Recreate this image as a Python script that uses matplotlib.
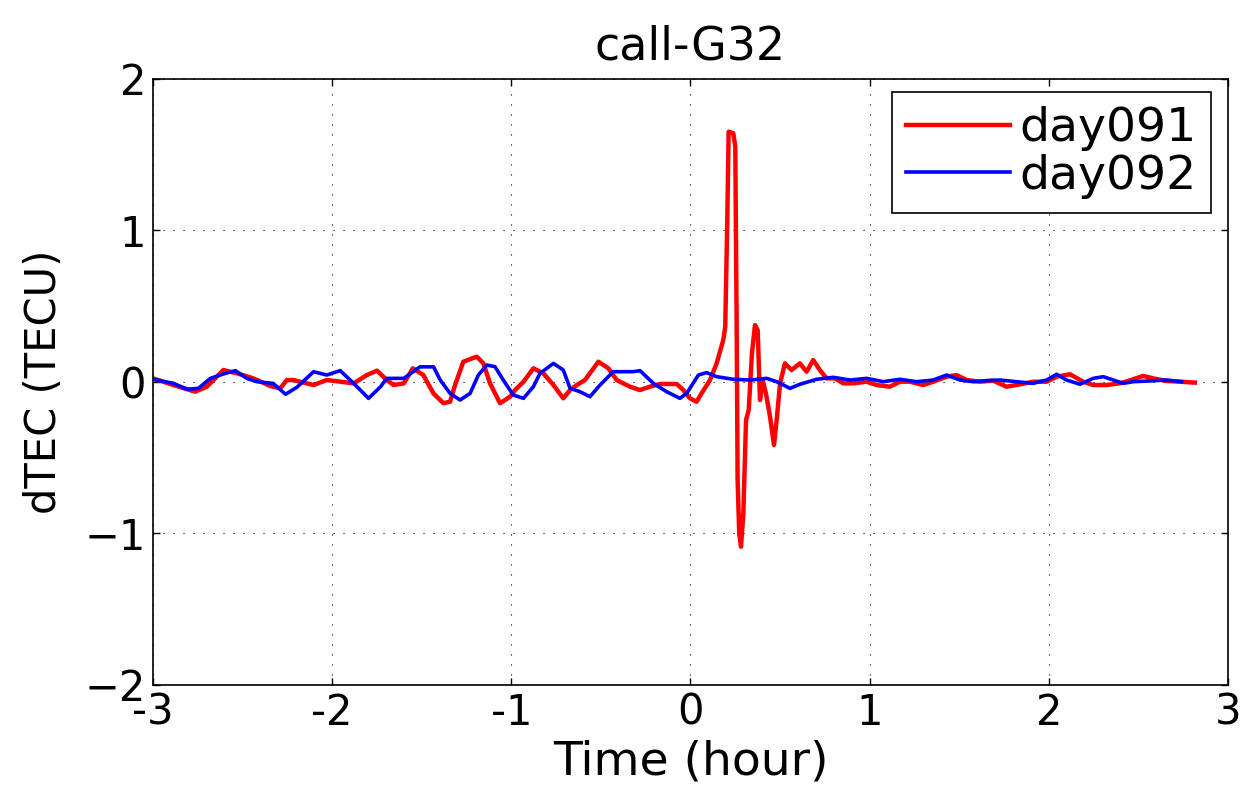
import numpy as np
import matplotlib
matplotlib.use('Agg')
import matplotlib.pyplot as plt

# day091 (red) : time in hours, dTEC in TECU
t_091 = [-3.000, -2.886, -2.765, -2.700, -2.607, -2.530, -2.440, -2.346, -2.290, -2.253,
         -2.216, -2.104, -2.030, -1.955, -1.880, -1.806, -1.750, -1.695, -1.657, -1.600,
         -1.550, -1.491, -1.435, -1.379, -1.342, -1.314, -1.268, -1.193, -1.156, -1.119,
         -1.063, -1.007, -0.979, -0.932, -0.877, -0.821, -0.765, -0.710, -0.672, -0.635,
         -0.589, -0.514, -0.458, -0.412, -0.338, -0.282, -0.226, -0.170, -0.077, -0.040,
         -0.003, 0.034, 0.062, 0.109, 0.146, 0.183, 0.194, 0.205, 0.213, 0.239,
         0.250, 0.258, 0.263, 0.272, 0.282, 0.295, 0.310, 0.325, 0.343, 0.360,
         0.375, 0.388, 0.403, 0.421, 0.444, 0.466, 0.481, 0.500, 0.527, 0.564,
         0.611, 0.648, 0.685, 0.722, 0.760, 0.806, 0.853, 0.909, 0.983, 1.039,
         1.113, 1.169, 1.225, 1.299, 1.355, 1.429, 1.485, 1.541, 1.615, 1.690,
         1.764, 1.820, 1.913, 1.988, 2.044, 2.118, 2.192, 2.248, 2.323, 2.397,
         2.471, 2.527, 2.583, 2.657, 2.732, 2.815]
v_091 = [0.024, -0.020, -0.064, -0.031, 0.079, 0.057, 0.024, -0.026, -0.042, 0.013,
         0.013, -0.020, 0.013, 0.002, -0.009, 0.046, 0.075, 0.013, -0.020, -0.009,
         0.090, 0.046, -0.075, -0.140, -0.130, -0.020, 0.134, 0.167, 0.123, -0.009,
         -0.140, -0.097, -0.053, 0.002, 0.090, 0.057, -0.020, -0.108, -0.053, -0.020,
         0.013, 0.134, 0.090, 0.013, -0.031, -0.053, -0.031, -0.013, -0.013, -0.053,
         -0.108, -0.130, -0.075, 0.013, 0.123, 0.277, 0.365, 1.047, 1.652, 1.641,
         1.553, 0.321, -0.647, -0.999, -1.087, -0.867, -0.251, -0.185, 0.189, 0.376,
         0.343, -0.119, 0.013, -0.075, -0.229, -0.416, -0.251, -0.009, 0.123, 0.079,
         0.123, 0.068, 0.145, 0.079, 0.024, 0.024, -0.009, -0.009, 0.002, -0.020,
         -0.031, 0.002, 0.002, -0.020, 0.002, 0.035, 0.046, 0.013, 0.002, 0.009,
         -0.031, -0.020, 0.002, 0.002, 0.035, 0.051, 0.002, -0.020, -0.020, -0.009,
         0.018, 0.040, 0.024, 0.007, 0.002, -0.004]

# day092 (blue)
t_092 = [-3.000, -2.886, -2.810, -2.747, -2.680, -2.607, -2.540, -2.477, -2.420, -2.330,
         -2.260, -2.197, -2.104, -2.030, -1.955, -1.880, -1.797, -1.730, -1.695, -1.600,
         -1.510, -1.434, -1.397, -1.342, -1.286, -1.230, -1.184, -1.137, -1.091, -1.045,
         -0.989, -0.932, -0.877, -0.840, -0.765, -0.710, -0.672, -0.617, -0.561, -0.505,
         -0.431, -0.319, -0.282, -0.207, -0.133, -0.059, -0.021, 0.044, 0.090, 0.146,
         0.239, 0.332, 0.425, 0.481, 0.555, 0.611, 0.704, 0.797, 0.890, 0.983,
         1.076, 1.169, 1.262, 1.355, 1.429, 1.504, 1.578, 1.653, 1.727, 1.820,
         1.913, 1.988, 2.044, 2.099, 2.174, 2.248, 2.304, 2.360, 2.415, 2.471,
         2.564, 2.657, 2.741]
v_092 = [0.018, -0.009, -0.048, -0.042, 0.024, 0.053, 0.075, 0.024, 0.002, -0.009,
         -0.081, -0.035, 0.068, 0.046, 0.075, -0.009, -0.108, -0.031, 0.024, 0.024,
         0.100, 0.100, 0.013, -0.075, -0.119, -0.075, 0.046, 0.112, 0.101, 0.013,
         -0.086, -0.108, -0.031, 0.057, 0.123, 0.079, -0.042, -0.064, -0.097, -0.020,
         0.068, 0.068, 0.075, -0.009, -0.064, -0.108, -0.075, 0.046, 0.062, 0.035,
         0.018, 0.013, 0.024, 0.002, -0.042, -0.015, 0.018, 0.031, 0.013, 0.024,
         0.002, 0.018, 0.002, 0.013, 0.046, 0.013, 0.002, 0.009, 0.013, 0.002,
         -0.009, 0.013, 0.051, 0.013, -0.015, 0.024, 0.035, 0.013, -0.009, 0.002,
         0.007, 0.013, 0.002]

xticks = [-3, -2, -1, 0, 1, 2, 3]
xticklabels = ['-3', '-2', '-1', '0', '1', '2', '3']
yticks = [-2, -1, 0, 1, 2]
yticklabels = ['\u22122', '\u22121', '0', '1', '2']

plt.rcParams['font.family'] = ['DejaVu Sans']

fig = plt.figure(figsize=(12.42, 7.86), dpi=100)
ax = fig.add_axes([0.1232, 0.1285, 0.8655, 0.771])

ax.plot(t_091, v_091, color='#ff0000', linewidth=3.2, label='day091')
ax.plot(t_092, v_092, color='#0000ff', linewidth=2.6, label='day092')

ax.set_xlim(-3, 3)
ax.set_ylim(-2, 2)
ax.set_xticks(xticks)
ax.set_xticklabels(xticklabels, fontsize=30)
ax.set_yticks(yticks)
ax.set_yticklabels(yticklabels, fontsize=30)
ax.tick_params(direction='in', length=5, width=1, top=True, right=True, pad=5)
ax.grid(True, color='black', linestyle=(0, (1, 8)), linewidth=0.8)
for s in ax.spines.values():
    s.set_linewidth(1.2)

ax.set_xlabel('Time (hour)', fontsize=34, labelpad=4)
ax.set_ylabel('dTEC (TECU)', fontsize=30, labelpad=14)
ax.set_title('call-G32', fontsize=33, pad=14)

leg = ax.legend(loc='upper right', bbox_to_anchor=(0.984, 0.9785), borderaxespad=0,
                fontsize=34, fancybox=False, framealpha=1, handlelength=2.2,
                handletextpad=0.2, labelspacing=0.05, borderpad=0.3)
leg.get_frame().set_edgecolor('black')
leg.get_frame().set_linewidth(1.2)

fig.savefig('out.png', dpi=100)
